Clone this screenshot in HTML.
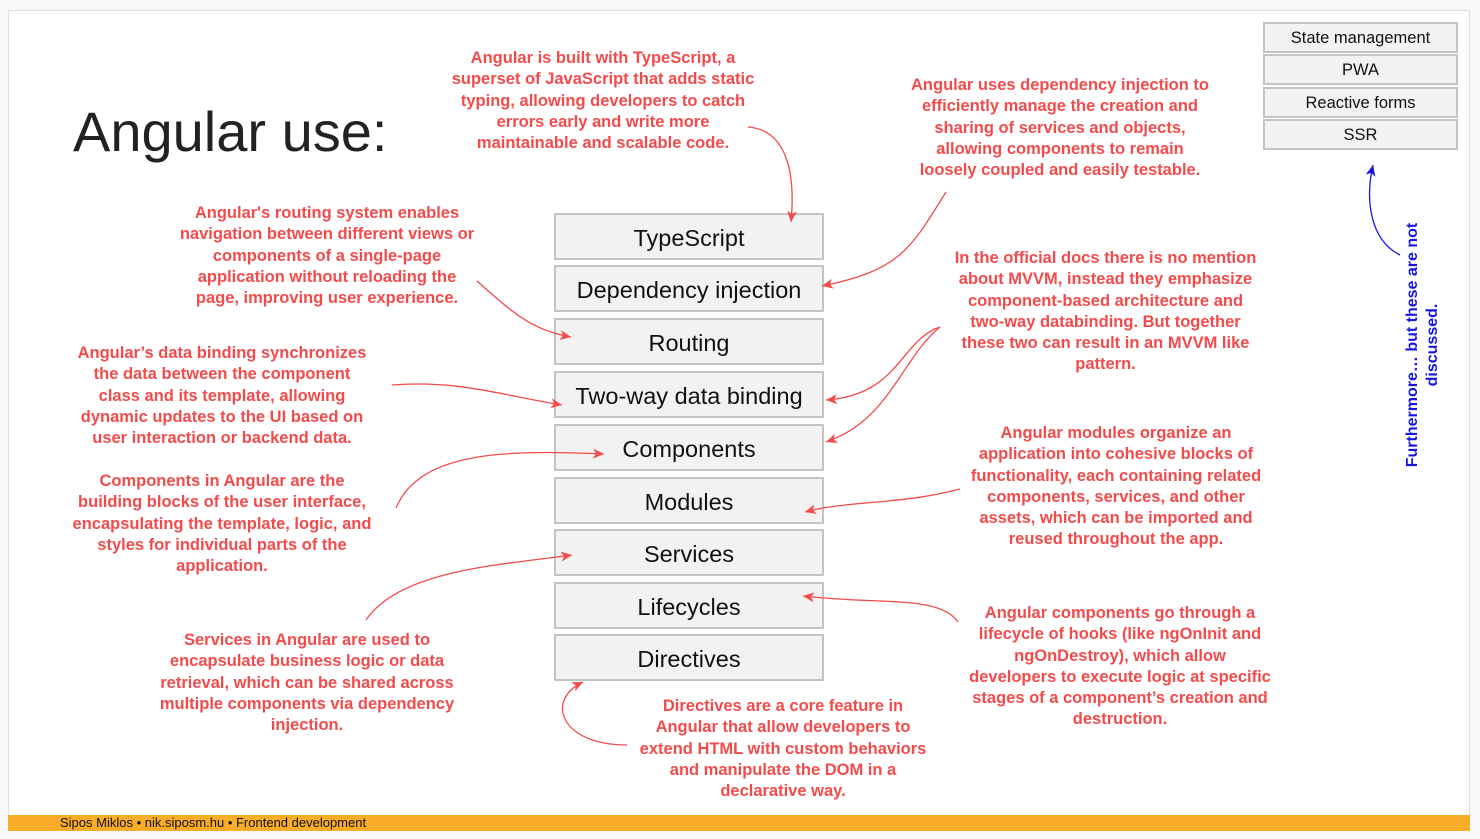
<!DOCTYPE html>
<html><head><meta charset="utf-8"><style>
body{margin:0;width:1480px;height:839px;background:#f8f9fa;position:relative;overflow:hidden;font-family:"Liberation Sans",sans-serif}
#slide{position:absolute;left:8px;top:10px;width:1462px;height:821px;background:#fff;border:1px solid #ddd;box-sizing:border-box}
.b{position:absolute;left:554px;width:270px;height:47px;background:#f2f2f2;border:2px solid #c4c4c4;box-sizing:border-box;text-align:center;line-height:47px;font-size:23.5px;color:#111}
.r{position:absolute;left:1263px;width:195px;height:31px;background:#f2f2f2;border:2px solid #c4c4c4;box-sizing:border-box;text-align:center;line-height:29px;font-size:16.5px;color:#111}
.t{position:absolute;color:#f34b4b;font-weight:bold;font-size:16.5px;line-height:21.3px;text-align:center;white-space:nowrap}
#foot{position:absolute;left:8px;top:815px;width:1462px;height:16px;background:#f9ac28;font-size:13px;line-height:16px;color:#111}
</style></head><body>
<div id="slide"></div>
<div style="position:absolute;left:73px;top:99px;font-size:56px;color:#222">Angular use:</div>
<div class="b" style="top:213px">TypeScript</div>
<div class="b" style="top:265px">Dependency injection</div>
<div class="b" style="top:318px">Routing</div>
<div class="b" style="top:371px">Two-way data binding</div>
<div class="b" style="top:424px">Components</div>
<div class="b" style="top:477px">Modules</div>
<div class="b" style="top:529px">Services</div>
<div class="b" style="top:582px">Lifecycles</div>
<div class="b" style="top:634px">Directives</div>
<div class="r" style="top:22px">State management</div>
<div class="r" style="top:54px">PWA</div>
<div class="r" style="top:87px">Reactive forms</div>
<div class="r" style="top:119px">SSR</div>
<div class="t" style="left:438px;top:48px;width:330px">Angular is built with TypeScript, a<br>superset of JavaScript that adds static<br>typing, allowing developers to catch<br>errors early and write more<br>maintainable and scalable code.</div>
<div class="t" style="left:895px;top:75px;width:330px">Angular uses dependency injection to<br>efficiently manage the creation and<br>sharing of services and objects,<br>allowing components to remain<br>loosely coupled and easily testable.</div>
<div class="t" style="left:162px;top:203px;width:330px">Angular's routing system enables<br>navigation between different views or<br>components of a single-page<br>application without reloading the<br>page, improving user experience.</div>
<div class="t" style="left:938px;top:248px;width:335px">In the official docs there is no mention<br>about MVVM, instead they emphasize<br>component-based architecture and<br>two-way databinding. But together<br>these two can result in an MVVM like<br>pattern.</div>
<div class="t" style="left:62px;top:343px;width:320px">Angular’s data binding synchronizes<br>the data between the component<br>class and its template, allowing<br>dynamic updates to the UI based on<br>user interaction or backend data.</div>
<div class="t" style="left:951px;top:423px;width:330px">Angular modules organize an<br>application into cohesive blocks of<br>functionality, each containing related<br>components, services, and other<br>assets, which can be imported and<br>reused throughout the app.</div>
<div class="t" style="left:57px;top:471px;width:330px">Components in Angular are the<br>building blocks of the user interface,<br>encapsulating the template, logic, and<br>styles for individual parts of the<br>application.</div>
<div class="t" style="left:950px;top:603px;width:340px">Angular components go through a<br>lifecycle of hooks (like ngOnInit and<br>ngOnDestroy), which allow<br>developers to execute logic at specific<br>stages of a component’s creation and<br>destruction.</div>
<div class="t" style="left:142px;top:630px;width:330px">Services in Angular are used to<br>encapsulate business logic or data<br>retrieval, which can be shared across<br>multiple components via dependency<br>injection.</div>
<div class="t" style="left:618px;top:696px;width:330px">Directives are a core feature in<br>Angular that allow developers to<br>extend HTML with custom behaviors<br>and manipulate the DOM in a<br>declarative way.</div>
<div style="position:absolute;left:1423px;top:345px;width:300px;transform:translate(-150px,-20px) rotate(-90deg);color:#1515e0;font-weight:bold;font-size:16px;line-height:20px;text-align:center">Furthermore… but these are not<br>discussed.</div>
<svg width="1480" height="839" style="position:absolute;left:0;top:0" fill="none" stroke="#f34b4b" stroke-width="1.3">
<defs><marker id="a" markerWidth="12" markerHeight="10" refX="11" refY="5" orient="auto" markerUnits="userSpaceOnUse"><path d="M0,0 L11,5 L0,10 L3,5 Z" fill="#f34b4b" stroke="none"/></marker>
<marker id="c" markerWidth="12" markerHeight="10" refX="11" refY="5" orient="auto" markerUnits="userSpaceOnUse"><path d="M0,0 L11,5 L0,10 L3,5 Z" fill="#1515e0" stroke="none"/></marker></defs>
<path d="M748,127 C790,130 795,180 791,222" marker-end="url(#a)"/>
<path d="M946,192 C910,250 900,270 822,286" marker-end="url(#a)"/>
<path d="M477,281 C510,310 530,330 571,337" marker-end="url(#a)"/>
<path d="M940,327 C900,340 900,395 826,400" marker-end="url(#a)"/>
<path d="M940,327 C900,360 890,420 826,442" marker-end="url(#a)"/>
<path d="M392,385 C460,380 500,395 562,405" marker-end="url(#a)"/>
<path d="M396,508 C420,450 510,450 604,454" marker-end="url(#a)"/>
<path d="M960,489 C900,505 850,500 805,512" marker-end="url(#a)"/>
<path d="M366,620 C400,570 500,565 572,555" marker-end="url(#a)"/>
<path d="M958,622 C940,595 880,605 803,596" marker-end="url(#a)"/>
<path d="M627,745 C560,745 545,700 583,682" marker-end="url(#a)"/>
<path d="M1400,255 C1370,240 1365,200 1373,165" stroke="#1515e0" marker-end="url(#c)"/>
</svg>
<div id="foot"><span style="margin-left:52px">Sipos Miklos • nik.siposm.hu • Frontend development</span></div>
</body></html>
